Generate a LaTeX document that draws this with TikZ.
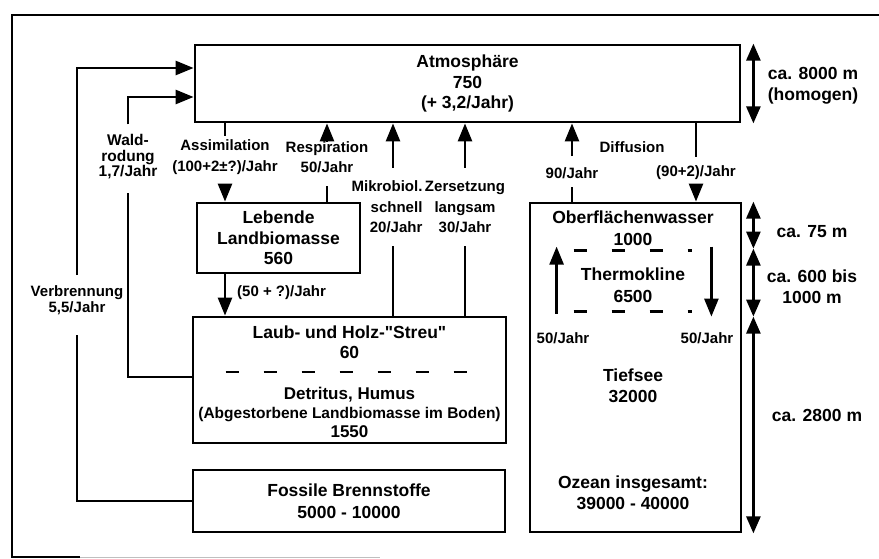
\documentclass[tikz,border=0pt]{standalone}
\usepackage{fontspec}
\setmainfont{Liberation Sans}
\usetikzlibrary{arrows.meta,calc,positioning}

\tikzset{
  box/.style={draw,line width=2.8pt,inner sep=0pt,align=center,big},
  big/.style={font=\fontsize{17.5}{20.5}\selectfont\bfseries},
  lab/.style={inner sep=0pt,align=center},
  flow/.style={line width=2.6pt},
  arr/.style={flow,-{Triangle[length=18pt,width=14pt]}},
  dim/.style={line width=2.6pt,{Triangle[length=17pt,width=14pt]}-{Triangle[length=17pt,width=14pt]}},
  sep/.style={line width=2.8pt,dash pattern=on 13pt off 25pt},
}

\begin{document}
\begin{tikzpicture}[x=1pt,y=-1pt,font=\fontsize{15}{20.5}\selectfont\bfseries]
  \useasboundingbox (0,0) rectangle (879,559);
  % Rahmen
  \draw[line width=2.4pt] (879,15) -- (12,15) -- (12,557) -- (80,557);
  \draw[line width=1pt,black!25] (80,557) -- (380,557);

  % Speicher
  \node[box,minimum width=545pt,minimum height=77pt] (atm) at (467.5,83.5) {Atmosphäre\\750\\(+ 3,2/Jahr)};
  \node[box,minimum width=163pt,minimum height=70pt] (leb) at (278.5,238) {Lebende\\Landbiomasse\\560};
  \node[box,minimum width=313pt,minimum height=126pt] (laub) at (349.5,380) {};
  \node[lab,big] (streu) at (349.5,342) {Laub- und Holz-\textquotedbl Streu\textquotedbl\\60};
  \node[lab,font=\fontsize{17}{19}\selectfont\bfseries] (detr) at (349.5,412) {Detritus, Humus\\{\fontsize{15.5}{19}\selectfont(Abgestorbene Landbiomasse im Boden)}\\1550};
  \draw[sep] ($(laub.west)+(34,-8)$) -- ($(laub.east)+(-38,-8)$);
  \node[box,minimum width=312pt,minimum height=62pt,font=\fontsize{17.5}{22}\selectfont\bfseries] (foss) at (349,501) {Fossile Brennstoffe\\5000 - 10000};

  % Ozean
  \node[box,minimum width=211pt,minimum height=329pt] (ozean) at (635.5,367.5) {};
  \tikzset{olab/.style={lab,font=\fontsize{17.5}{21.5}\selectfont\bfseries}}
  \node[olab] (ofw) at (633,228) {Oberflächenwasser\\1000};
  \node[olab] (therm) at (633,285) {Thermokline\\6500};
  \node[olab] (tief) at (633,386) {Tiefsee\\32000};
  \node[olab] (ges) at (633,493) {Ozean insgesamt:\\39000 - 40000};
  \foreach \y in {49,110} {\draw[sep] ($(ozean.north west)+(45,\y)$) -- ($(ozean.north west)+(163,\y)$);}
  \draw[arr] ($(ozean.north west)+(28,112)$) -- ($(ozean.north west)+(28,45)$);
  \draw[arr] ($(ozean.north east)+(-31,45)$) -- ($(ozean.north east)+(-31,115)$);
  \node[lab] (mixup) at (563,338) {50/Jahr};
  \node[lab] (mixdn) at (707,338) {50/Jahr};

  % Flussbeschriftungen
  \node[lab] (assim) at (225,157) {Assimilation\\(100+2±?)/Jahr};
  \node[lab] (resp) at (327,157) {Respiration\\50/Jahr};
  \node[lab,align=right] (mikro) at (387,207) {Mikrobiol.\\schnell\\20/Jahr};
  \node[lab] (zers) at (465,207) {Zersetzung\\langsam\\30/Jahr};
  \node[lab,font=\fontsize{15.5}{15.5}\selectfont\bfseries] (wald) at (128,157) {Wald-\\rodung\\1,7/Jahr};
  \node[lab,font=\fontsize{15}{16}\selectfont\bfseries] (verb) at (77,300) {Verbrennung\\5,5/Jahr};
  \node[lab,anchor=west] (dlaub) at (237,293) {(50 + ?)/Jahr};
  \node[lab] (diff) at (632,147) {Diffusion};
  \node[lab] (up90) at (572,173) {90/Jahr};
  \node[lab] (dn92) at (696,173) {(90+2)/Jahr};

  % Fluesse
  \draw[flow] (foss.west) -| ($(verb.south)+(0,20)$);
  \draw[arr] ($(verb.north)+(0,-10)$) |- ($(atm.west)+(0,-15.5)$);
  \draw[flow] ($(laub.west)+(0,-3)$) -| ($(wald.south)+(0,13)$);
  \draw[arr] ($(wald.north)+(0,-10)$) |- ($(atm.west)+(0,13.5)$);
  \draw[flow] (atm.south -| assim) -- ++(0,13);
  \draw[arr] ($(leb.north -| assim)+(0,-17)$) -- (leb.north -| assim);
  \draw[flow] (leb.north -| resp) -- ++(0,-16);
  \draw[arr] ($(atm.south -| resp)+(0,18)$) -- (atm.south -| resp);
  \foreach \n/\dx in {mikro/6,zers/0} {
    \draw[flow] ($(laub.north -| \n)+(\dx,0)$) -- ($(\n.south)+(\dx,13)$);
    \draw[arr] ($(\n.north)+(\dx,-13)$) -- ($(atm.south -| \n)+(\dx,0)$);
  }
  \draw[arr] (leb.south -| assim) -- (laub.north -| assim);
  \draw[flow] (ozean.north -| up90) -- ($(up90.south)+(0,8)$);
  \draw[arr] ($(up90.north)+(0,-11)$) -- (atm.south -| up90);
  \draw[flow] (atm.south -| dn92) -- ($(dn92.north)+(0,-9)$);
  \draw[arr] ($(dn92.south)+(0,5)$) -- (ozean.north -| dn92);

  % Hoehenangaben
  \tikzset{hlab/.style={lab,font=\fontsize{17.5}{21}\selectfont\bfseries}}
  \node[hlab] (hatm) at (813,86) {ca. 8000 m\\(homogen)};
  \node[hlab] (hofw) at (812,232) {ca. 75 m};
  \node[hlab] (htherm) at (812,287) {ca. 600 bis\\1000 m};
  \node[hlab] (htief) at (817,415) {ca. 2800 m};
  \draw[dim] ($(atm.north east)+(12,0)$) -- ($(atm.south east)+(12,0)$);
  \coordinate (d0) at ($(ozean.north east)+(11,0)$);
  \coordinate (d1) at ($(ozean.north east)+(11,47)$);
  \coordinate (d2) at ($(ozean.north east)+(11,115)$);
  \coordinate (d3) at ($(ozean.south east)+(11,0)$);
  \foreach \a/\b in {d0/d1,d1/d2,d2/d3} {\draw[dim] (\a) -- (\b);}
\end{tikzpicture}
\end{document}
